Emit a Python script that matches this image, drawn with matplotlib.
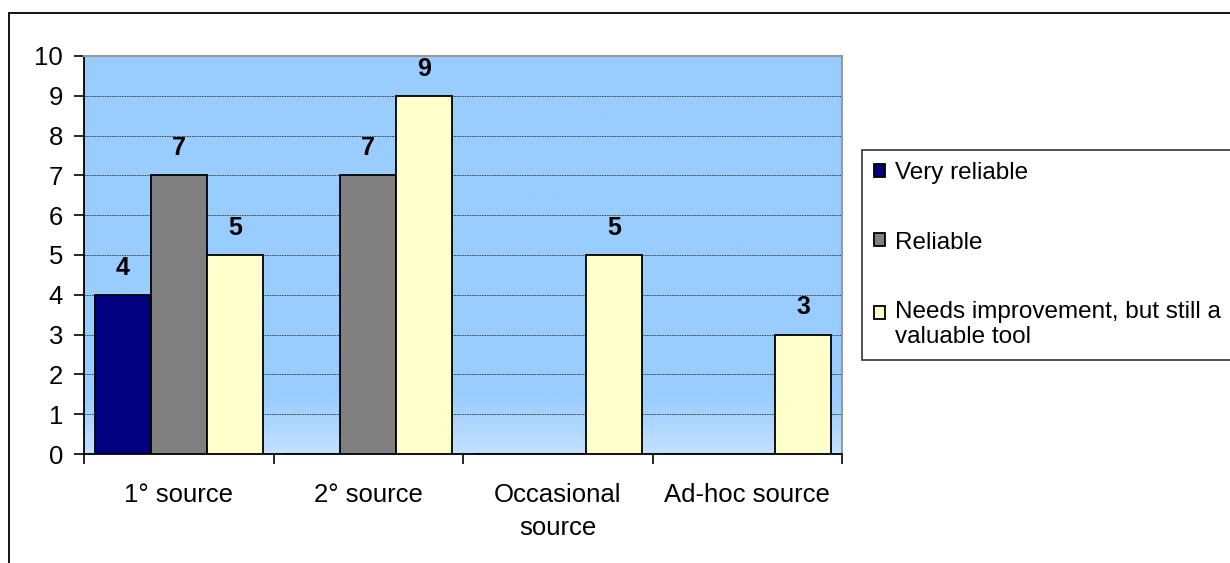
import matplotlib.pyplot as plt
import numpy as np
from matplotlib.colors import LinearSegmentedColormap
from matplotlib.patches import Rectangle

categories = ["1° source", "2° source", "Occasional\nsource", "Ad-hoc source"]
very_reliable = [4, 0, 0, 0]
reliable = [7, 7, 0, 0]
needs_improvement = [5, 9, 5, 3]
series_names = ["Very reliable", "Reliable", "Needs improvement, but still a\nvaluable tool"]
series_colors = ["#000080", "#808080", "#FFFFCC"]

plt.rcParams['font.family'] = ['Liberation Sans', 'DejaVu Sans']

fig = plt.figure(figsize=(12.3, 5.63), dpi=100)
# outer chart border
fig.patches.append(Rectangle((9 / 1230, -0.05), 1.2, 1 - 13 / 563 + 0.05,
                             transform=fig.transFigure, fill=False,
                             edgecolor="black", linewidth=1.3))

ax = fig.add_axes([84 / 1230, 1 - 454 / 563, 758 / 1230, 398 / 563])

# background gradient (light at the bottom)
grad = np.ones((200, 1))
grad[-30:, 0] = np.linspace(1, 0, 30)
cmap = LinearSegmentedColormap.from_list("bg", ["#C4E1FF", "#99CCFF"])
ax.imshow(grad, extent=[0, 4, 0, 10], aspect="auto", cmap=cmap, zorder=0,
          origin="upper")

x = np.arange(len(categories)) + 0.5
w = 0.296
for i, (vals, name, col) in enumerate(zip([very_reliable, reliable, needs_improvement],
                                          series_names, series_colors)):
    pos = x + (i - 1) * w
    bars = ax.bar(pos, vals, width=w, color=col, edgecolor="black",
                  linewidth=1.3, label=name, zorder=3)
    for b, v in zip(bars, vals):
        if v > 0:
            ax.annotate(str(v), (b.get_x() + b.get_width() / 2, v),
                        xytext=(0, 11), textcoords="offset points",
                        ha="center", va="bottom", fontsize=18,
                        fontweight="bold", zorder=4)

ax.set_xlim(0, 4)
ax.set_ylim(0, 10)
ax.set_yticks(range(0, 11))
ax.set_xticks(range(0, 5))
ax.set_xticklabels([])
ax.set_xticks(x, minor=True)
ax.set_xticklabels(categories, minor=True, fontsize=18.5)
ax.tick_params(axis="x", which="minor", length=0, pad=21)
ax.tick_params(axis="x", which="major", length=7, width=1.2, direction="out")
ax.tick_params(axis="y", length=7, width=1.2, direction="out", labelsize=18.5, pad=8)
ax.yaxis.grid(True, color="#333333", linestyle=(0, (2, 1)), linewidth=0.6)
ax.set_axisbelow(True)
for side in ["top", "right"]:
    ax.spines[side].set_color("#999999")
    ax.spines[side].set_linewidth(1.5)
for side in ["left", "bottom"]:
    ax.spines[side].set_linewidth(1.3)

for lab in ax.get_xticklabels(minor=True):
    lab.set_linespacing(1.45)

leg = fig.legend(loc="upper left",
                 bbox_to_anchor=(862 / 1230, 1 - 150 / 563, 390 / 1230, 0),
                 mode="expand",
                 fontsize=17.5, frameon=True, fancybox=False, edgecolor="black",
                 handlelength=0.45, handleheight=0.45, handletextpad=0.4,
                 labelspacing=1.95, borderpad=0.5, borderaxespad=0)
leg.get_frame().set_linewidth(1.2)
# put the last swatch on the first line of its two-line label
h = leg.legend_handles[2]
h.set_y(h.get_y() + 8.5)

fig.savefig("out.png", dpi=100)
